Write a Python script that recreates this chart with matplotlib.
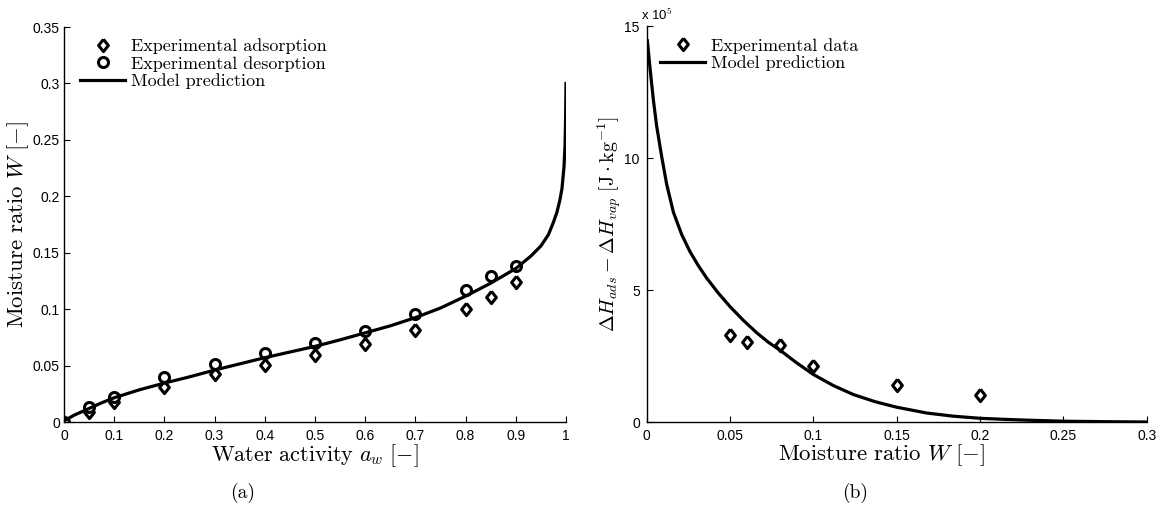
import matplotlib
matplotlib.use("Agg")
import matplotlib.pyplot as plt
import numpy as np

plt.rcParams['mathtext.fontset'] = 'cm'
plt.rcParams['font.family'] = ['Liberation Sans', 'DejaVu Sans']
plt.rcParams['axes.unicode_minus'] = False

# ---- Panel (a): sorption isotherm ----
aw_exp = [0, 0.05, 0.1, 0.2, 0.3, 0.4, 0.5, 0.6, 0.7, 0.8, 0.85, 0.9]
W_ads = [0.0, 0.009, 0.018, 0.031, 0.0425, 0.0505, 0.0594, 0.069, 0.0815, 0.0998, 0.111, 0.124]
W_des = [0.0, 0.013, 0.0224, 0.0396, 0.0511, 0.0608, 0.0697, 0.0806, 0.0954, 0.117, 0.129, 0.138]
aw_model = [0, 0.02, 0.05, 0.075, 0.1, 0.15, 0.2, 0.25, 0.3, 0.35, 0.4, 0.45, 0.5, 0.55,
            0.6, 0.65, 0.7, 0.75, 0.8, 0.85, 0.9, 0.93, 0.95, 0.965, 0.975, 0.982, 0.988,
            0.992, 0.996, 0.998, 0.9993, 1.0]
W_model = [0.001, 0.006, 0.012, 0.017, 0.0215, 0.0285, 0.0345, 0.040, 0.046, 0.0515,
           0.057, 0.062, 0.067, 0.0728, 0.079, 0.0852, 0.0925, 0.101, 0.1115, 0.123,
           0.136, 0.147, 0.156, 0.166, 0.177, 0.186, 0.197, 0.207, 0.226, 0.245, 0.27, 0.30]

# ---- Panel (b): heat of adsorption ----
W_exp_b = [0.05, 0.06, 0.08, 0.1, 0.15, 0.2]
dH_exp = [3.30, 3.04, 2.92, 2.12, 1.40, 1.02]
W_model_b = [0.0004, 0.002, 0.004, 0.006, 0.009, 0.012, 0.016, 0.021, 0.026, 0.031, 0.036,
             0.043, 0.05, 0.058, 0.066, 0.073, 0.08, 0.09, 0.1, 0.112, 0.124, 0.137, 0.15,
             0.168, 0.184, 0.2, 0.215, 0.228, 0.25, 0.275, 0.3]
dH_model = [14.44, 13.4, 12.2, 11.2, 10.05, 9.0, 7.95, 7.1, 6.45, 5.92, 5.45,
            4.88, 4.37, 3.85, 3.38, 3.02, 2.72, 2.24, 1.80, 1.38, 1.04, 0.77, 0.56,
            0.34, 0.22, 0.14, 0.10, 0.07, 0.03, 0.012, 0.0]

scale_label = r'x 10$^{5}$'

diamond = [(0, 1), (0.8, 0), (0, -1), (-0.8, 0), (0, 1)]

fig = plt.figure(figsize=(11.63, 5.11), dpi=100)
axA = fig.add_axes([64/1163, 89/511, 502/1163, 395/511])
axB = fig.add_axes([646.7/1163, 89/511, 500/1163, 396/511])

mk = dict(linestyle='none', markerfacecolor='white', markeredgecolor='black',
          markeredgewidth=2.2)

axA.plot(aw_exp, W_ads, marker=diamond, markersize=8.8, label='Experimental adsorption', **mk)
axA.plot(aw_exp, W_des, marker='o', markersize=7.2, label='Experimental desorption', **mk)
axA.plot(aw_model, W_model, color='black', linewidth=2.3, label='Model prediction')

axB.plot(W_exp_b, dH_exp, marker=diamond, markersize=8.8, label='Experimental data', **mk)
axB.plot(W_model_b, dH_model, color='black', linewidth=2.3, label='Model prediction')

for ax in (axA, axB):
    for s in ('top', 'right'):
        ax.spines[s].set_visible(False)
    for s in ('left', 'bottom'):
        ax.spines[s].set_linewidth(1.0)
    ax.tick_params(direction='in', length=4, width=0.8, labelsize=10)
    ax.tick_params(axis='x', pad=5)
    ax.tick_params(axis='y', pad=3)

axA.set_xlim(0, 1)
axA.set_ylim(0, 0.35)
xt = np.round(np.arange(0, 1.01, 0.1), 2)
axA.set_xticks(xt)
axA.set_xticklabels(['0' if v == 0 else ('1' if v == 1 else f'{v:g}') for v in xt])
yt = np.round(np.arange(0, 0.351, 0.05), 2)
axA.set_yticks(yt)
axA.set_yticklabels(['0' if v == 0 else f'{v:g}' for v in yt])
axA.set_xlabel(r'$\mathrm{Water\ activity}\ a_w\ [-]$', fontsize=16)
axA.xaxis.set_label_coords(0.5, -0.052)
axA.xaxis.label.set_va('top')
axA.set_ylabel(r'$\mathrm{Moisture\ ratio}\ W\ [-]$', fontsize=16.5)
axA.yaxis.set_label_coords(-0.066, 0.5)

axB.set_xlim(0, 0.3)
axB.set_ylim(0, 15)
xtb = np.round(np.arange(0, 0.301, 0.05), 2)
axB.set_xticks(xtb)
axB.set_xticklabels(['0' if v == 0 else f'{v:g}' for v in xtb])
axB.set_yticks([0, 5, 10, 15])
axB.set_yticklabels(['0', '5', '10', '15'])
axB.tick_params(axis='y', pad=5)
axB.set_xlabel(r'$\mathrm{Moisture\ ratio}\ W\ [-]$', fontsize=16.5)
axB.xaxis.set_label_coords(0.47, -0.052)
axB.xaxis.label.set_va('top')
axB.set_ylabel(r'$\Delta H_{ads}-\Delta H_{vap}\ [\mathrm{J}\cdot\mathrm{kg}^{-1}]$', fontsize=14.5)
axB.yaxis.set_label_coords(-0.046, 0.5)
axB.text(-0.012, 1.008, scale_label, transform=axB.transAxes, fontsize=9.5,
         ha='left', va='bottom')

legprops = dict(frameon=False, prop={'family': 'cmr10', 'size': 13},
                handlelength=2.5, handletextpad=0.3, labelspacing=0.1,
                borderaxespad=0.0, borderpad=0.0)
axA.legend(loc='upper left', bbox_to_anchor=(0.032, 0.972), **legprops)
axB.legend(loc='upper left', bbox_to_anchor=(0.027, 0.97), **legprops)

fig.text(243/1163, 1 - 493/511, '(a)', fontsize=14, family='cmr10', ha='center', va='center')
fig.text(855/1163, 1 - 493/511, '(b)', fontsize=14, family='cmr10', ha='center', va='center')

fig.savefig('out.png', dpi=100)
